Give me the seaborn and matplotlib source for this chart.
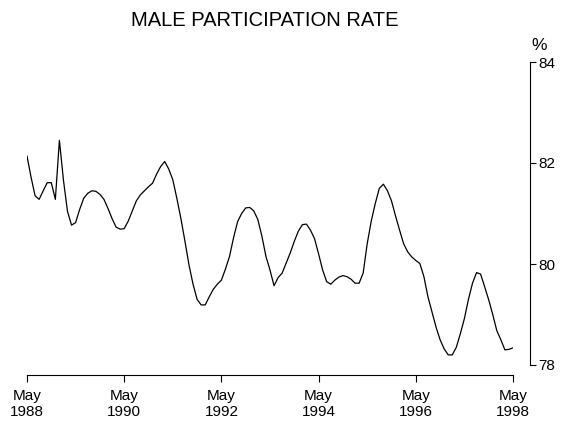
import matplotlib
matplotlib.use("Agg")
import matplotlib.pyplot as plt
import pandas as pd
import seaborn as sns

# monthly values, May 1988 .. May 1998
rate = [
    82.14, 81.72, 81.35, 81.28, 81.45, 81.61, 81.61, 81.28, 82.45, 81.66,
    81.04, 80.77, 80.82, 81.08, 81.30, 81.40, 81.45, 81.44, 81.38, 81.28,
    81.10, 80.90, 80.73, 80.69, 80.70, 80.85, 81.05, 81.25, 81.37, 81.45,
    81.53, 81.60, 81.78, 81.93, 82.03, 81.88, 81.67, 81.30, 80.90, 80.45,
    79.98, 79.60, 79.30, 79.19, 79.19, 79.35, 79.50, 79.60, 79.68, 79.90,
    80.15, 80.52, 80.84, 81.00, 81.11, 81.12, 81.05, 80.88, 80.55, 80.15,
    79.88, 79.57, 79.73, 79.82, 80.02, 80.22, 80.45, 80.65, 80.78, 80.79,
    80.67, 80.50, 80.20, 79.88, 79.65, 79.60, 79.68, 79.74, 79.77, 79.75,
    79.70, 79.62, 79.62, 79.82, 80.40, 80.85, 81.20, 81.50, 81.58, 81.45,
    81.25, 80.95, 80.67, 80.40, 80.24, 80.14, 80.07, 80.01, 79.75, 79.35,
    79.05, 78.75, 78.50, 78.32, 78.20, 78.20, 78.35, 78.62, 78.92, 79.30,
    79.62, 79.83, 79.80, 79.55, 79.29, 79.00, 78.68, 78.50, 78.30, 78.31,
    78.34,
]
month = list(range(len(rate)))

tick_months = [0, 24, 48, 72, 96, 120]
tick_labels = ["May\n1988", "May\n1990", "May\n1992", "May\n1994", "May\n1996", "May\n1998"]
y_ticks = [78, 80, 82, 84]
title = "MALE PARTICIPATION RATE"

sns.set_theme(style="ticks")
plt.rcParams["font.family"] = ["Liberation Sans", "DejaVu Sans"]
plt.rcParams["text.color"] = "black"

df = pd.DataFrame({"month": month, "rate": rate})

fig = plt.figure(figsize=(5.64, 4.25), dpi=100)
ax = fig.add_axes([27 / 564, 1 - 365 / 425, 486 / 564, 303 / 425])
sns.lineplot(data=df, x="month", y="rate", ax=ax, color="black", linewidth=0.9)

ax.set_xlim(0, 120)
ax.set_ylim(78, 84)
ax.set_xticks(tick_months)
ax.set_xticklabels(tick_labels, fontsize=13, linespacing=1.6)
ax.set_yticks(y_ticks)
ax.set_yticklabels([str(t) for t in y_ticks], fontsize=12)
ax.set_xlabel("")
ax.set_ylabel("")

ax.yaxis.tick_right()
for side in ["top", "left"]:
    ax.spines[side].set_visible(False)
ax.spines["right"].set_position(("outward", 12))
ax.spines["bottom"].set_position(("outward", 7))
ax.spines["right"].set_bounds(78, 84)
ax.spines["bottom"].set_bounds(0, 120)
for side in ["right", "bottom"]:
    ax.spines[side].set_linewidth(0.8)
    ax.spines[side].set_color("black")

ax.tick_params(axis="x", direction="out", length=5, width=0.8, pad=5, colors="black")
ax.tick_params(axis="y", direction="out", length=4, width=0.8, pad=2, colors="black")

fig.text(265 / 564, 1 - 26 / 425, title, ha="center", va="baseline",
         fontsize=14.5, color="black")
fig.text(539 / 564, 1 - 50.5 / 425, "%", ha="center", va="baseline",
         fontsize=12.5, color="black")

fig.savefig("out.png", dpi=100)
plt.close(fig)
